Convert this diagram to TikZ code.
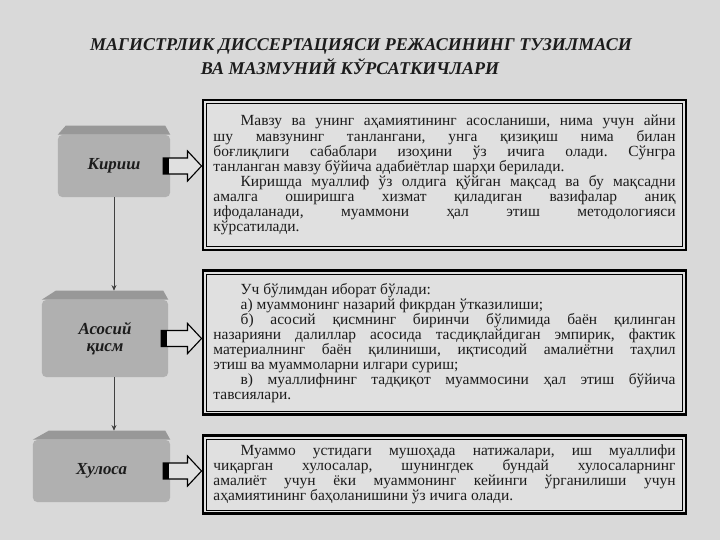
\documentclass[tikz,border=0pt]{standalone}
\usepackage{fontspec}
\setmainfont{Liberation Serif}
\usetikzlibrary{arrows.meta, positioning, calc}
\frenchspacing

\definecolor{bggray}{HTML}{D9D9D9}
\definecolor{boxgray}{HTML}{E0E0E0}
\definecolor{partgray}{HTML}{B0B0B0}
\definecolor{topgray}{HTML}{989898}
\definecolor{txtgray}{HTML}{1C1C1C}

\newlength{\indw}\setlength{\indw}{0.68cm}
\newcommand{\ind}{\hspace*{\indw}}

% thin inner line of a framed box
\newcommand{\innerframe}[1]{%
  \draw[line width=0.5pt] ([shift={(5,5)}]#1.north west) rectangle ([shift={(-5,-5)}]#1.south east);}

% darker top face of a part box, #2 = chamfer
\newcommand{\parttop}[2]{%
  \fill[topgray] (#1.north west) -- ([shift={(#2,-9)}]#1.north west) -- ([shift={(-5,-9)}]#1.north east)
    -- (#1.north east) -- cycle;
  \coordinate (#1-top) at ([shift={(0,-9)}]#1.north);}

% block arrow from a part box to its text box
\newcommand{\fatarrow}[2]{%
  \path (#1.east) ++(-7,0) coordinate (ft) (#2.west |- #1.east) coordinate (fh);
  \filldraw[fat] ($(ft)+(0,-8)$) -- ($(fh)+(-14,-8)$) -- ($(fh)+(-14,-15)$) -- (fh)
    -- ($(fh)+(-14,15)$) -- ($(fh)+(-14,8)$) -- ($(ft)+(0,8)$) -- cycle;
  \fill[black] ($(ft)+(0,-8)$) rectangle ($(ft)+(6,8)$);}

\begin{document}
\begin{tikzpicture}[x=0.025cm, y=-0.025cm,
    every node/.style={text=txtgray},
    infobox/.style={draw=black, line width=2pt, fill=boxgray, minimum width=12.075cm, text width=11.55cm,
      align=justify, inner sep=0pt, font=\fontsize{11}{10.7}\selectfont},
    part/.style={fill=partgray, rounded corners=3pt, inner sep=0pt, font=\fontsize{12}{12.5}\selectfont\bfseries\itshape, align=center},
    heading/.style={font=\fontsize{12.8}{14}\selectfont\bfseries\itshape},
    down/.style={-{Stealth[length=4pt, width=3.5pt]}, line width=0.6pt, draw=black!75},
    fat/.style={draw=black, line width=0.8pt, fill=boxgray}
  ]
  \useasboundingbox[fill=bggray] (0,0) rectangle (720,540);

  % --- Title ---
  \node[heading] (title) at (361,46) {МАГИСТРЛИК ДИССЕРТАЦИЯСИ РЕЖАСИНИНГ ТУЗИЛМАСИ};
  \node[heading] (subtitle) at (350,67) {ВА МАЗМУНИЙ КЎРСАТКИЧЛАРИ};

  % --- Text boxes ---
  \node[infobox, minimum height=3.75cm] (kirishmatn) at (444.5,175) {%
    \ind Мавзу ва унинг аҳамиятининг асосланиши, нима учун айни\linebreak
    шу мавзунинг танлангани, унга қизиқиш нима билан\linebreak
    боғлиқлиги сабаблари изоҳини ўз ичига олади. Сўнгра\linebreak
    танланган мавзу бўйича адабиётлар шарҳи берилади.\par
    \ind Киришда муаллиф ўз олдига қўйган мақсад ва бу мақсадни\linebreak
    амалга оширишга хизмат қиладиган вазифалар аниқ\linebreak
    ифодаланади, муаммони ҳал этиш методологияси\linebreak
    кўрсатилади.};
  \node[infobox, minimum height=3.6cm, below=0.45cm of kirishmatn] (asosiymatn) {%
    \ind Уч бўлимдан иборат бўлади:\par
    \ind а) муаммонинг назарий фикрдан ўтказилиши;\par
    \ind б) асосий қисмнинг биринчи бўлимида баён қилинган\linebreak
    назарияни далиллар асосида тасдиқлайдиган эмпирик, фактик\linebreak
    материалнинг баён қилиниши, иқтисодий амалиётни таҳлил\linebreak
    этиш ва муаммоларни илгари суриш;\par
    \ind в) муаллифнинг тадқиқот муаммосини ҳал этиш бўйича\linebreak
    тавсиялари.};
  \node[infobox, minimum height=1.95cm, below=0.45cm of asosiymatn] (xulosamatn) {%
    \ind Муаммо устидаги мушоҳада натижалари, иш муаллифи\linebreak
    чиқарган хулосалар, шунингдек бундай хулосаларнинг\linebreak
    амалиёт учун ёки муаммонинг кейинги ўрганилиши учун\linebreak
    аҳамиятининг баҳоланишини ўз ичига олади.};
  \innerframe{kirishmatn}
  \innerframe{asosiymatn}
  \innerframe{xulosamatn}

  % --- Parts ---
  \node[part, minimum width=2.8cm, minimum height=1.55cm] (kirish) at (114,166) {Кириш};
  \node[part, minimum width=3.15cm, minimum height=1.925cm] (asosiy) at (105,338.5) {Асосий\\қисм};
  \node[part, minimum width=3.425cm, minimum height=1.55cm] (xulosa) at (101.5,471) {Хулоса};
  \parttop{kirish}{8}
  \parttop{asosiy}{14}
  \parttop{xulosa}{16}

  % --- Arrows ---
  \draw[down] (kirish.south) -- (kirish.south |- asosiy-top);
  \draw[down] (kirish.south |- asosiy.south) -- (kirish.south |- xulosa-top);
  \fatarrow{kirish}{kirishmatn}
  \fatarrow{asosiy}{asosiymatn}
  \fatarrow{xulosa}{xulosamatn}
\end{tikzpicture}
\end{document}
